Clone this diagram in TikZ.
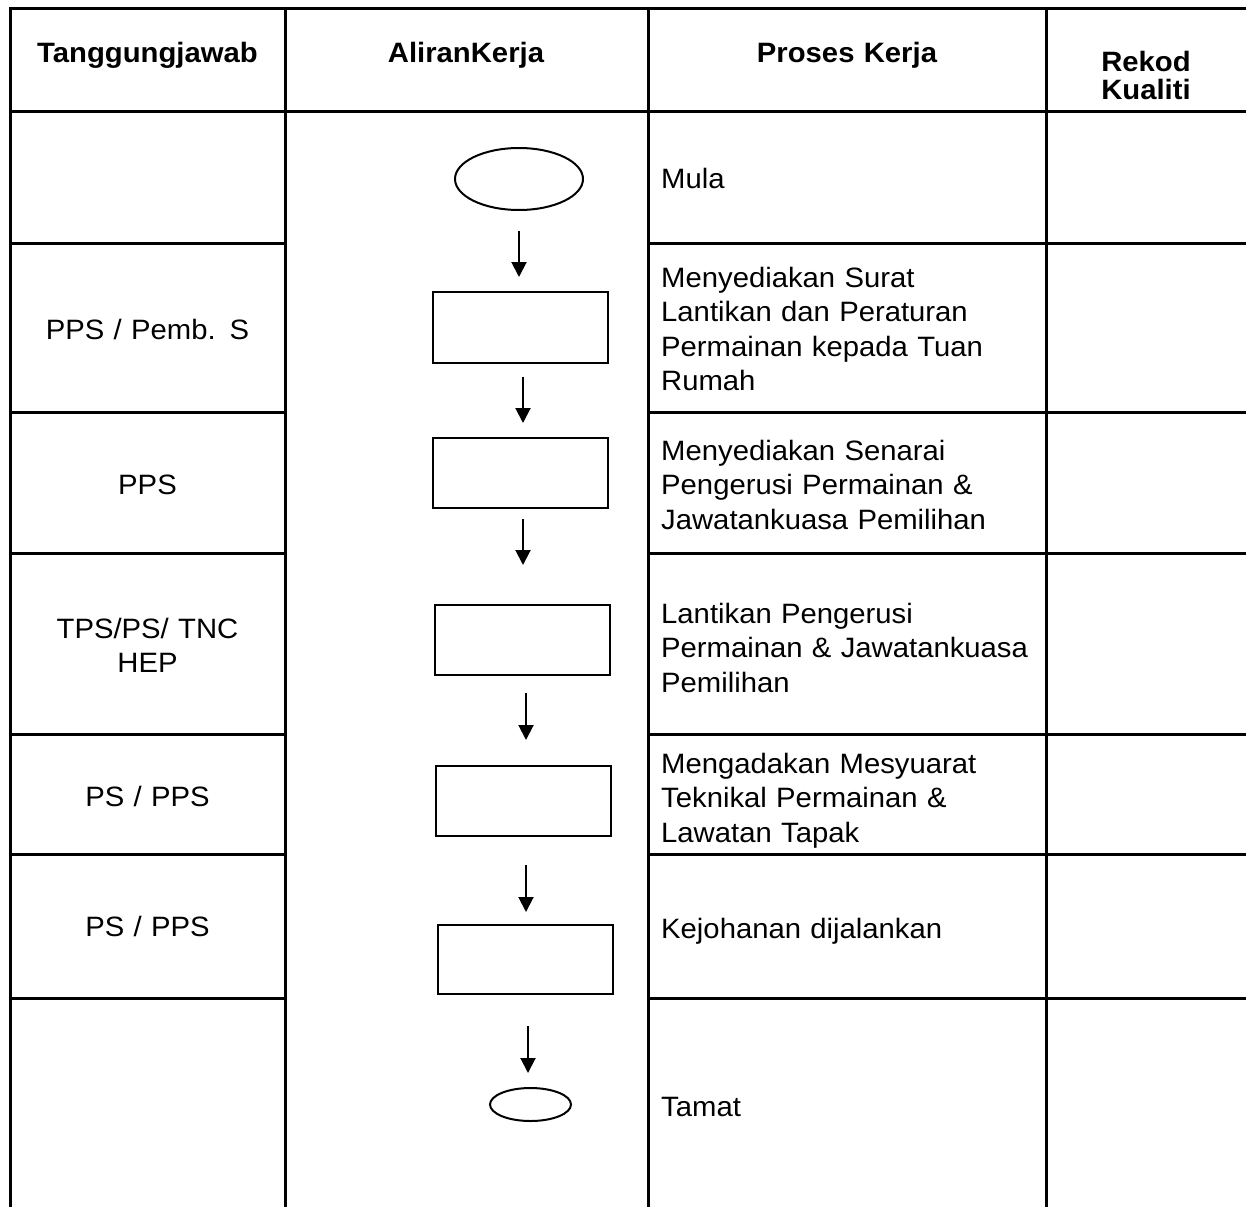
\documentclass[tikz,border=0pt]{standalone}
\usepackage{fontspec}
\setmainfont{Liberation Sans}[FakeStretch=1.045]
\usetikzlibrary{shapes.geometric,arrows.meta}
\begin{document}
\begin{tikzpicture}[x=1pt,y=-1pt,
  grid/.style={line width=3pt},
  shp/.style={draw,line width=2pt,inner sep=0pt,outer sep=0pt},
  boxshape/.style={shp,rectangle,minimum width=175pt},
  oval/.style={shp,ellipse},
  flow/.style={line width=2pt,-{Triangle[width=15pt,length=15pt]}},
  txt/.style={inner sep=0pt,font=\fontsize{28pt}{34.5pt}\selectfont},
  lcell/.style={txt,anchor=base west,align=left,text width=380pt},
  ccell/.style={txt,anchor=base,align=center,text width=270pt},
  hdr/.style={inner sep=0pt,anchor=base,align=center,text width=300pt,font=\fontsize{28pt}{28pt}\selectfont\bfseries}]
\useasboundingbox (0,0) rectangle (1246,1207);
% table grid
\draw[grid] (10,1207) -- (10,9) -- (1246,9);
\draw[grid] (10,111) -- (1246,111);
\foreach \x in {285,648,1046} {\draw[grid] (\x,9) -- (\x,1207);}
\foreach \y in {243,412,553,734,854,998} {
  \draw[grid] (10,\y) -- (285,\y);
  \draw[grid] (648,\y) -- (1246,\y);
}
% headers
\node[hdr] (h1) at (147.5,63) {Tanggungjawab};
\node[hdr] (h2) at (466,63) {AliranKerja};
\node[hdr] (h3) at (847,63) {Proses Kerja};
\node[hdr,text width=180pt] (h4) at (1146,71) {Rekod\\Kualiti};
% flow shapes
\node[oval,minimum width=128pt,minimum height=62pt] (start) at (519,179) {};
\node[boxshape,minimum height=71pt] (b1) at (520.5,327.5) {};
\node[boxshape,minimum height=70pt] (b2) at (520.5,473) {};
\node[boxshape,minimum height=70pt] (b3) at (522.5,640) {};
\node[boxshape,minimum height=70pt] (b4) at (523.5,801) {};
\node[boxshape,minimum height=69pt] (b5) at (525,959.5) {};
\node[oval,minimum width=81pt,minimum height=33pt] (end) at (530.5,1104.5) {};
% arrows (free-standing between shapes)
\coordinate (a1s) at (519,231);  \coordinate (a1e) at (519,277);
\coordinate (a2s) at (523,377);  \coordinate (a2e) at (523,423);
\coordinate (a3s) at (523,519);  \coordinate (a3e) at (523,565);
\coordinate (a4s) at (526,693);  \coordinate (a4e) at (526,740);
\coordinate (a5s) at (526,865);  \coordinate (a5e) at (526,912);
\coordinate (a6s) at (528,1026); \coordinate (a6e) at (528,1073);
\draw[flow] (a1s) -- (a1e);
\draw[flow] (a2s) -- (a2e);
\draw[flow] (a3s) -- (a3e);
\draw[flow] (a4s) -- (a4e);
\draw[flow] (a5s) -- (a5e);
\draw[flow] (a6s) -- (a6e);
% responsibility column
\node[ccell] (r1) at (147.5,339) {PPS / Pemb. S};
\node[ccell] (r2) at (147.5,494) {PPS};
\node[ccell] (r3) at (147.5,638) {TPS/PS/ TNC\\HEP};
\node[ccell] (r4) at (147.5,806) {PS / PPS};
\node[ccell] (r5) at (147.5,936) {PS / PPS};
% process column
\node[lcell] (p0) at (661,188) {Mula};
\node[lcell] (p1) at (661,287) {Menyediakan Surat\\Lantikan dan Peraturan\\Permainan kepada Tuan\\Rumah};
\node[lcell] (p2) at (661,460) {Menyediakan Senarai\\Pengerusi Permainan \&\\Jawatankuasa Pemilihan};
\node[lcell] (p3) at (661,623) {Lantikan Pengerusi\\Permainan \& Jawatankuasa\\Pemilihan};
\node[lcell] (p4) at (661,773) {Mengadakan Mesyuarat\\Teknikal Permainan \&\\Lawatan Tapak};
\node[lcell] (p5) at (661,938) {Kejohanan dijalankan};
\node[lcell] (p6) at (661,1116) {Tamat};
\end{tikzpicture}
\end{document}
